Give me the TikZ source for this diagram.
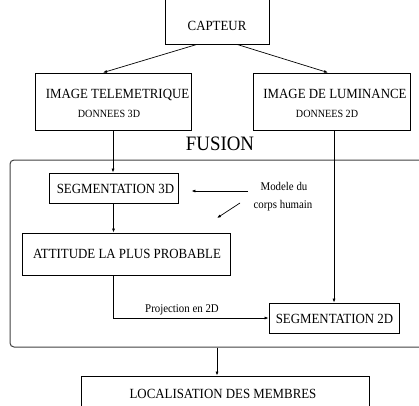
\documentclass[tikz,border=0pt]{standalone}
\usepackage{fontspec}
\setmainfont{Liberation Serif}[FakeStretch=0.92]
\usetikzlibrary{arrows.meta,calc}
\tikzset{
  box/.style={draw, line width=0.8pt, inner sep=0pt, rectangle},
  fusionbox/.style={draw=black!75, line width=1pt, rounded corners=4pt, inner sep=0pt, rectangle},
  arr/.style={line width=0.7pt, -{Latex[length=4pt,width=3pt]}},
  ln/.style={line width=0.7pt},
  big/.style={anchor=base, inner sep=0pt, font=\fontsize{14}{16}\selectfont},
  small/.style={anchor=base, inner sep=0pt, font=\fontsize{11}{13}\selectfont},
  note/.style={anchor=base, inner sep=0pt, font=\fontsize{11.8}{14}\selectfont},
  title/.style={anchor=base, inner sep=0pt, font=\fontsize{20.5}{24}\selectfont},
}
\begin{document}
\begin{tikzpicture}[x=1pt,y=-1pt]
\useasboundingbox (0,0) rectangle (419,405);
\clip (0,0) rectangle (419,405);
% boxes
\node[box, minimum width=104pt, minimum height=54pt] (cap) at (217,17) {};
\node[box, minimum width=156pt, minimum height=57pt] (tele) at (113,101.5) {};
\node[box, minimum width=157pt, minimum height=57pt] (lum) at (331.5,101.5) {};
\node[fusionbox, minimum width=430pt, minimum height=187pt] (fus) at (225,253.5) {};
\node[box, minimum width=129pt, minimum height=30pt] (seg3d) at (113.5,188) {};
\node[box, minimum width=208pt, minimum height=42pt] (att) at (126,254) {};
\node[box, minimum width=130pt, minimum height=30pt] (seg2d) at (334,318) {};
\node[box, minimum width=288pt, minimum height=50pt] (loc) at (225,401) {};
% texts
\node[big] (capt) at (217,30) {CAPTEUR};
\node[big] (telet) at (117.5,98) {IMAGE TELEMETRIQUE};
\node[small] (teled) at (109,117.5) {DONNEES 3D};
\node[big] (lumt) at (335,98) {IMAGE DE LUMINANCE};
\node[small] (lumd) at (327,117.5) {DONNEES 2D};
\node[title] (fust) at (220,150) {FUSION};
\node[big] (seg3dt) at (115.5,193) {SEGMENTATION 3D};
\node[note] (mod1) at (284,190) {Modele du};
\node[note] (mod2) at (283,208) {corps humain};
\node[big] (attt) at (127,258) {ATTITUDE LA PLUS PROBABLE};
\node[note] (proj) at (182,312) {Projection en 2D};
\node[big] (seg2dt) at (334.5,323) {SEGMENTATION 2D};
\node[big] (loct) at (223,398) {LOCALISATION DES MEMBRES};
% connectors
\draw[arr] ($(cap.south)+(-20,0)$) -- ($(tele.north)+(-10,0)$);
\draw[arr] ($(cap.south)+(20,0)$) -- ($(lum.north)+(-3.5,0)$);
\draw[arr] (tele.south) -- (tele.south |- seg3d.north);
\draw[arr] (seg2d.north |- lum.south) -- (seg2d.north);
\draw[arr] (seg3d.south) -- (seg3d.south |- att.north);
\coordinate (m1) at (248,191);
\coordinate (m2) at (240,203);
\coordinate (m3) at (217,218);
\draw[arr] (m1) -- ($(seg3d.east |- m1)+(13,0)$);
\draw[arr] (m2) -- (m3);
\draw[arr] (att.south -| seg3d.south) |- (seg2d.west);
\draw[arr] (cap.south |- fus.south) -- (cap.south |- loc.north);
\end{tikzpicture}
\end{document}
